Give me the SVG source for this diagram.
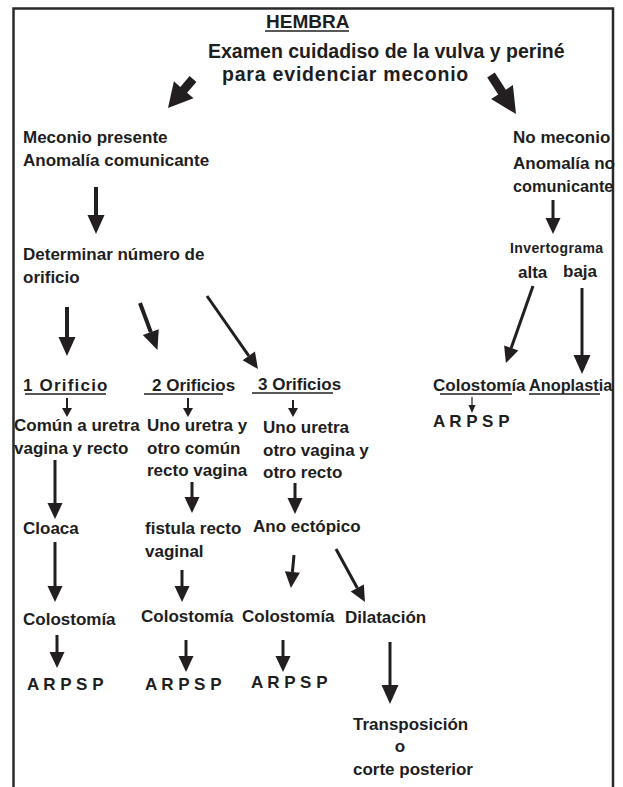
<svg xmlns="http://www.w3.org/2000/svg" width="623" height="787" viewBox="0 0 623 787">
<style>
.t{font-family:"Liberation Sans",Arial,sans-serif;font-weight:bold;font-size:17px;fill:#1e1e1e}
.ti{font-size:19.5px}
.sm{font-size:14px;letter-spacing:0.4px}
.sp{letter-spacing:1.2px}
.c{stroke:#231f20;fill:none}
.u{stroke:#231f20;stroke-width:1.5}
.fa{fill:#231f20}
.w4{stroke-width:4}
.w3{stroke-width:3}
.w2{stroke-width:2}
.w1{stroke-width:1.2}
</style>
<defs>
<marker id="hB" markerUnits="userSpaceOnUse" markerWidth="19" markerHeight="17" viewBox="0 0 19 17" refX="0" refY="8.5" orient="auto" overflow="visible"><path d="M0,0 L19,8.5 L0,17 z" fill="#231f20"/></marker>
<marker id="hM" markerUnits="userSpaceOnUse" markerWidth="16" markerHeight="15" viewBox="0 0 16 15" refX="0" refY="7.5" orient="auto" overflow="visible"><path d="M0,0 L16,7.5 L0,15 z" fill="#231f20"/></marker>
<marker id="hS" markerUnits="userSpaceOnUse" markerWidth="9" markerHeight="10" viewBox="0 0 9 10" refX="0" refY="5" orient="auto" overflow="visible"><path d="M0,0 L9,5 L0,10 z" fill="#231f20"/></marker>
<marker id="hT" markerUnits="userSpaceOnUse" markerWidth="8" markerHeight="7" viewBox="0 0 8 7" refX="0" refY="3.5" orient="auto" overflow="visible"><path d="M0,0 L8,3.5 L0,7 z" fill="#231f20"/></marker>
</defs>
<rect width="623" height="787" fill="#ffffff"/>
<path d="M13.5,787 V8.5 H613 V787" fill="none" stroke="#2a2a2a" stroke-width="2.5"/>

<g id="hembra"><text class="t" x="266" y="28" style="font-size:19px">HEMBRA</text><line class="u" x1="265" y1="31" x2="349" y2="31"/></g>
<g id="examen"><text class="t ti" x="208" y="58">Examen cuidadiso de la vulva y periné</text><text class="t ti" x="222" y="81" style="letter-spacing:0.8px">para evidenciar meconio</text></g>

<g id="meconio"><text class="t" x="23" y="143">Meconio presente</text><text class="t" x="23" y="166">Anomalía comunicante</text></g>
<g id="determinar"><text class="t" x="23" y="260">Determinar número de</text><text class="t" x="23" y="283">orificio</text></g>
<g id="nomeconio"><text class="t" x="513" y="143">No meconio</text><text class="t" x="513" y="169">Anomalía no</text><text class="t" x="513" y="192" style="font-size:16.3px">comunicante</text></g>
<g id="invertograma"><text class="t sm" x="510" y="253">Invertograma</text></g>
<g id="alta"><text class="t" x="518" y="278">alta</text></g>
<g id="baja"><text class="t" x="563" y="277">baja</text></g>

<g id="orificio1"><text class="t sp" x="23" y="391">1 Orificio</text><line class="u" x1="25" y1="394" x2="106" y2="394"/></g>
<g id="orificio2"><text class="t" x="152" y="391">2 Orificios</text><line class="u" x1="144" y1="394" x2="223" y2="394"/></g>
<g id="orificio3"><text class="t" x="258" y="390">3 Orificios</text><line class="u" x1="252" y1="393" x2="333" y2="393"/></g>
<g id="colostomiaR"><text class="t" x="433" y="391">Colostomía</text><line class="u" x1="440" y1="394" x2="512" y2="394"/></g>
<g id="anoplastia"><text class="t" x="529" y="391" style="font-size:16.3px">Anoplastia</text><line class="u" x1="529" y1="394" x2="600" y2="394"/></g>
<g id="arpspR"><text class="t" x="433" y="427">A R P S P</text></g>

<g id="comun"><text class="t" x="14" y="431">Común a uretra</text><text class="t" x="14" y="454">vagina y recto</text></g>
<g id="uno2"><text class="t" x="147" y="431">Uno uretra y</text><text class="t" x="147" y="454">otro común</text><text class="t" x="147" y="476">recto vagina</text></g>
<g id="uno3"><text class="t" x="263" y="433">Uno uretra</text><text class="t" x="263" y="456">otro vagina y</text><text class="t" x="263" y="478">otro recto</text></g>

<g id="cloaca"><text class="t" x="23" y="534">Cloaca</text></g>
<g id="fistula"><text class="t" x="145" y="534">fistula recto</text><text class="t" x="145" y="557">vaginal</text></g>
<g id="ano"><text class="t" x="253" y="532">Ano ectópico</text></g>

<g id="colo1"><text class="t" x="23" y="625">Colostomía</text></g>
<g id="colo2"><text class="t" x="141" y="622">Colostomía</text></g>
<g id="colo3"><text class="t" x="242" y="622">Colostomía</text></g>
<g id="dilatacion"><text class="t" x="345" y="623">Dilatación</text></g>

<g id="arpsp1"><text class="t" x="27" y="690">A R P S P</text></g>
<g id="arpsp2"><text class="t" x="145" y="690">A R P S P</text></g>
<g id="arpsp3"><text class="t" x="251" y="688">A R P S P</text></g>

<g id="transposicion"><text class="t" x="353" y="730">Transposición</text><text class="t" x="400" y="752" text-anchor="middle">o</text><text class="t" x="353" y="775">corte posterior</text></g>

<g id="connectors">
<polygon class="fa" points="189.6,76.1 180.3,86.9 173.9,81.3 168,108 193.5,98.3 187.1,92.7 196.4,81.9"/>
<polygon class="fa" points="494.8,72.6 505.8,89.7 512.9,85.1 516,114 491.1,99.1 498.2,94.5 487.2,77.4"/>
<line class="c w4" x1="96" y1="187" x2="96" y2="215" marker-end="url(#hB)"/>
<line class="c w3" x1="553" y1="200" x2="553" y2="218" marker-end="url(#hM)"/>
<line class="c w3" x1="533" y1="286" x2="511.2" y2="348" marker-end="url(#hM)"/>
<line class="c w3" x1="582" y1="288" x2="582" y2="355" marker-end="url(#hB)"/>
<line class="c w4" x1="67" y1="307" x2="67" y2="337" marker-end="url(#hB)"/>
<line class="c w4" x1="140" y1="303" x2="150.8" y2="332.1" marker-end="url(#hB)"/>
<line class="c w3" x1="207" y1="296" x2="248.8" y2="355.9" marker-end="url(#hM)"/>
<line class="c w2" x1="67" y1="398" x2="67" y2="408" marker-end="url(#hS)"/>
<line class="c w2" x1="188" y1="398" x2="188" y2="408" marker-end="url(#hS)"/>
<line class="c w2" x1="293" y1="400" x2="293" y2="408" marker-end="url(#hS)"/>
<line class="c w1" x1="472" y1="397" x2="472" y2="405" marker-end="url(#hT)"/>
<line class="c w3" x1="55" y1="460" x2="55" y2="503" marker-end="url(#hM)"/>
<line class="c w3" x1="55" y1="542" x2="55" y2="586" marker-end="url(#hM)"/>
<line class="c w3" x1="57" y1="635" x2="57" y2="652" marker-end="url(#hM)"/>
<line class="c w3" x1="192" y1="482" x2="192" y2="497" marker-end="url(#hM)"/>
<line class="c w3" x1="182" y1="570" x2="182" y2="586" marker-end="url(#hM)"/>
<line class="c w3" x1="186" y1="640" x2="186" y2="656" marker-end="url(#hM)"/>
<line class="c w3" x1="295" y1="483" x2="295" y2="498" marker-end="url(#hM)"/>
<line class="c w3" x1="294" y1="555" x2="292.4" y2="572" marker-end="url(#hM)"/>
<line class="c w3" x1="283" y1="640" x2="283" y2="656" marker-end="url(#hM)"/>
<line class="c w3" x1="336" y1="549" x2="357.3" y2="588" marker-end="url(#hM)"/>
<line class="c w3" x1="390" y1="642" x2="390" y2="685" marker-end="url(#hB)"/>
</g>
</svg>
